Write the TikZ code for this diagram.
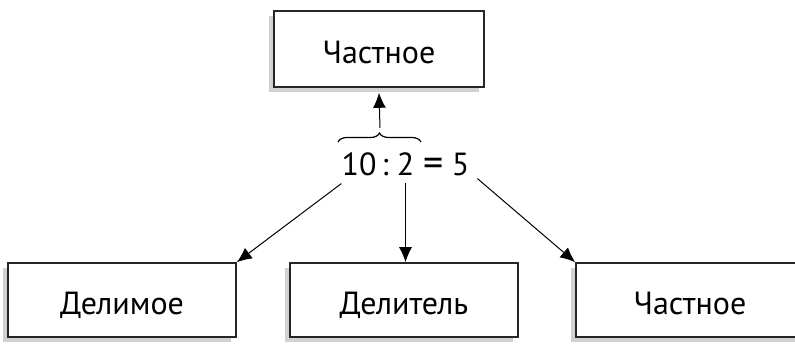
\documentclass[tikz,border=0pt]{standalone}
\usepackage{fontspec}
\setmainfont{PT Sans}
\usetikzlibrary{positioning, calc, arrows.meta, shadows, decorations.pathreplacing}

\tikzset{
  box/.style={draw=black!85, line width=1.6pt, fill=white, minimum width=228pt,
    minimum height=74pt, font=\fontsize{32}{36}\selectfont,
    text height=28pt, text depth=0pt,
    drop shadow={shadow xshift=-5pt, shadow yshift=-5pt, fill=black!18, opacity=1}},
  eqpart/.style={inner sep=0pt, anchor=base, font=\fontsize{32}{36}\selectfont},
  arr/.style={line width=1pt, -{Latex[length=15pt, width=13pt]}}
}

\begin{document}
\begin{tikzpicture}[x=1pt, y=-1pt]

      % Frame of the picture.
      \clip (0,0) rectangle (795,343);

      % Draw the boxes.
      \node[box, minimum width=210pt, minimum height=76pt] (quotTop) at (379,49) {Частное};
      \node[box] (dividend) at (122,300) {Делимое};
      \node[box] (divisor) at (404,300) {Делитель};
      \node[box] (quotient) at (690,300) {Частное};

      % Draw the equation, part by part.
      \node[eqpart] (ten) at (359,175) {10};
      \node[eqpart] (colon) at (385,175) {:};
      \node[eqpart] (two) at (405.5,175) {2};
      \node[eqpart, font=\fontsize{40}{44}\selectfont] (eq) at (434,176) {=};
      \node[eqpart] (five) at (460.5,175) {5};

      % Draw the brace over 10 : 2 and its arrow.
      \coordinate (braceL) at (338,142);
      \coordinate (braceR) at (421,142);
      \coordinate (braceTip) at (380,128);
      \draw[line width=1.2pt, decorate, decoration={brace, amplitude=9pt}]
        (braceL) -- (braceR);
      \draw[arr] (braceTip) -- ([yshift=-5pt]quotTop.south);

      % Draw the arrows to the lower boxes.
      \draw[arr] ([yshift=-8pt]ten.south west) -- (dividend.north east);
      \draw[arr] ([yshift=-8pt]two.south) -- (divisor.north -| two.south);
      \draw[arr] ([xshift=8pt, yshift=-3pt]five.south east) -- (quotient.north west);
    \end{tikzpicture}
\end{document}
